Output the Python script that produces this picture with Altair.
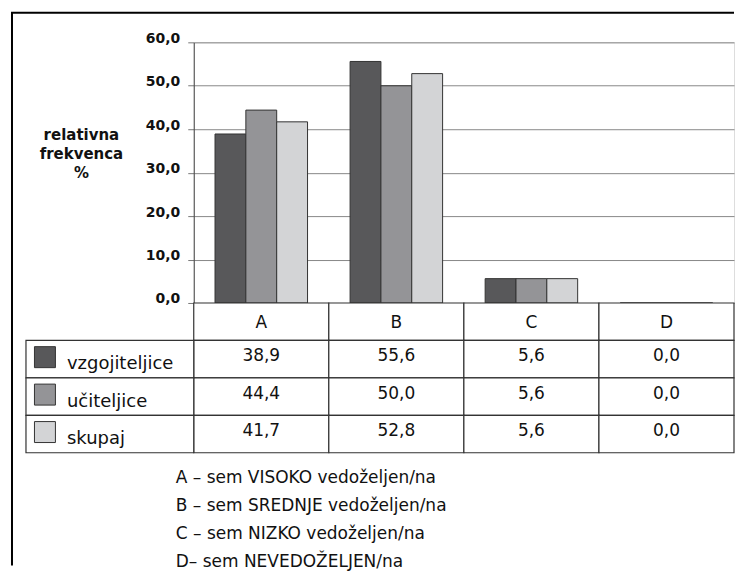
import altair as alt
import pandas as pd

categories = ["A", "B", "C", "D"]
series = ["vzgojiteljice", "učiteljice", "skupaj"]
vzgojiteljice = [38.9, 55.6, 5.6, 0.0]
uciteljice = [44.4, 50.0, 5.6, 0.0]
skupaj = [41.7, 52.8, 5.6, 0.0]
y_ticks = [0, 10, 20, 30, 40, 50, 60]
y_title = ["relativna", "frekvenca", "%"]
notes = [
    "A – sem VISOKO vedoželjen/na",
    "B – sem SREDNJE vedoželjen/na",
    "C – sem NIZKO vedoželjen/na",
    "D– sem NEVEDOŽELJEN/na",
]
colors = ["#58585a", "#949497", "#d3d4d6"]

FONT = "DejaVu Sans"
TXT = "#111111"
W, H = 541, 261
TABLE_H = 150
HDR = "_hdr"
rows = [HDR] + series

values = dict(zip(series, [vzgojiteljice, uciteljice, skupaj]))
bars_df = pd.DataFrame(
    [{"cat": c, "series": s, "value": values[s][i]} for s in series for i, c in enumerate(categories)]
)
bars_df["label"] = bars_df["value"].map(lambda v: f"{v:.1f}".replace(".", ","))
hdr_df = pd.DataFrame({"cat": categories, "row": HDR, "label": categories})
val_df = bars_df.rename(columns={"series": "row"})[["cat", "row", "label"]]
cells_df = pd.concat([hdr_df, val_df], ignore_index=True)
legend_df = pd.DataFrame({"row": series, "series": series})
notes_df = pd.DataFrame({"note": notes, "i": list(range(len(notes)))})
one = pd.DataFrame({"k": [0]})

x = alt.X("cat:N", scale=alt.Scale(domain=categories, paddingInner=0, paddingOuter=0), axis=None)
color = alt.Color("series:N", scale=alt.Scale(domain=series, range=colors), legend=None)

bars = alt.Chart(bars_df).mark_bar(stroke="#333333", strokeWidth=1).encode(
    x=x,
    xOffset=alt.XOffset("series:N", scale=alt.Scale(domain=series, paddingInner=0, paddingOuter=0.69)),
    y=alt.Y(
        "value:Q",
        scale=alt.Scale(domain=[0, 60], nice=False),
        axis=alt.Axis(
            values=y_ticks,
            labelExpr="replace(format(datum.value, '.1f'), '.', ',')",
            title=y_title,
            titleAngle=0,
            titleAlign="center",
            titleBaseline="top",
            titleX=-113,
            titleY=85,
            titleFont=FONT,
            titleFontSize=15,
            titleFontWeight="bold",
            titleColor=TXT,
            titleLineHeight=19,
            labelFont=FONT,
            labelFontSize=14,
            labelFontWeight="bold",
            labelColor=TXT,
            labelBaseline="alphabetic",
            labelPadding=8,
            tickSize=6,
            tickColor="#777777",
            domainColor="#444444",
            gridColor="#888888",
            gridWidth=1,
        ),
    ),
    color=color,
)

ty = alt.Y("row:N", scale=alt.Scale(domain=rows, range=[H, H + TABLE_H], paddingInner=0, paddingOuter=0), axis=None)

cells = alt.Chart(cells_df).mark_rect(fill="white", stroke="#333333", strokeWidth=1.2).encode(x=x, y=ty)
hdr_text = alt.Chart(hdr_df).mark_text(
    font=FONT, fontSize=17, baseline="alphabetic", dy=6.5, color=TXT
).encode(x=x, y=ty, text="label:N")
val_text = alt.Chart(val_df).mark_text(
    font=FONT, fontSize=17, baseline="alphabetic", dy=2, color=TXT
).encode(x=x, y=ty, text="label:N")

leg_cells = alt.Chart(legend_df).mark_rect(fill="white", stroke="#333333", strokeWidth=1.2).encode(
    x=alt.value(-168), x2=alt.value(0), y=ty
)
swatches = alt.Chart(legend_df).mark_square(size=441, stroke="#333333", strokeWidth=1, opacity=1, yOffset=-2).encode(
    x=alt.value(-149), y=ty, color=color
)
leg_text = alt.Chart(legend_df).mark_text(
    font=FONT, fontSize=18, align="left", baseline="alphabetic", dy=10, color=TXT
).encode(x=alt.value(-127), y=ty, text="series:N")

fy = alt.Y("i:O", scale=alt.Scale(domain=list(range(len(notes))), range=[427.7, 539], paddingInner=0, paddingOuter=0), axis=None)
note_text = alt.Chart(notes_df).mark_text(
    font=FONT, fontSize=17, align="left", baseline="alphabetic", color=TXT
).encode(x=alt.value(-18), y=fy, text="note:N")

left_border = alt.Chart(one).mark_rule(color="black", strokeWidth=2).encode(
    x=alt.value(-182), y=alt.value(-29.7), y2=alt.value(524)
)
top_border = alt.Chart(one).mark_rule(color="black", strokeWidth=2).encode(
    x=alt.value(-183), x2=alt.value(W), y=alt.value(-29.7)
)

chart = alt.layer(
    bars, cells, hdr_text, val_text, leg_cells, swatches, leg_text, note_text, left_border, top_border
).resolve_scale(y="independent").properties(
    width=W, height=H, padding={"left": 2, "top": 3, "right": 0, "bottom": 0}
).configure_view(stroke=None).configure(background="white")

chart.save("out.html", embed_options={"renderer": "svg", "actions": False})
